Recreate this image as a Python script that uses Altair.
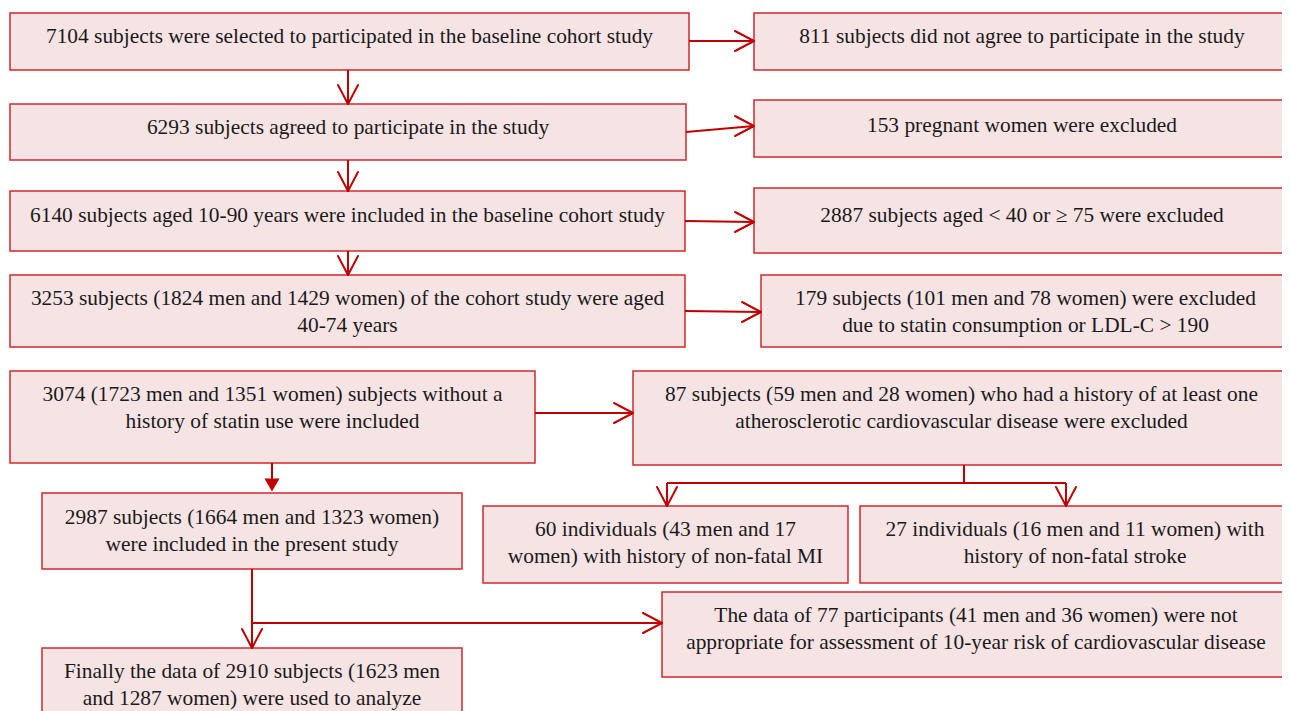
import altair as alt
import pandas as pd

# ---- box texts (one entry per box, lines split by "|") ----
box_texts = [
    "7104 subjects were selected to participated in the baseline cohort study",
    "811 subjects did not agree to participate in the study",
    "6293 subjects agreed to participate in the study",
    "153 pregnant women were excluded",
    "6140 subjects aged 10-90 years were included in the baseline cohort study",
    "2887 subjects aged < 40 or \u2265 75 were excluded",
    "3253 subjects (1824 men and 1429 women) of the cohort study were aged|40-74 years",
    "179 subjects (101 men and 78 women) were excluded|due to statin consumption or LDL-C > 190",
    "3074 (1723 men and 1351 women) subjects without a|history of statin use were included",
    "87 subjects (59 men and 28 women) who had a history of at least one|atherosclerotic cardiovascular disease were excluded",
    "2987 subjects (1664 men and 1323 women)|were included in the present study",
    "60 individuals (43 men and 17|women) with history of non-fatal MI",
    "27 individuals (16 men and 11 women) with|history of non-fatal stroke",
    "The data of 77 participants (41 men and 36 women) were not|appropriate for assessment of 10-year risk of cardiovascular disease",
    "Finally the data of 2910 subjects (1623 men|and 1287 women) were used to analyze",
]
# ---- layout (pixel positions of the boxes) ----
box_x0 = [10, 754, 10, 754, 10, 754, 10, 761, 10, 633, 42, 483, 860, 662, 42]
box_x1 = [689, 1292, 686, 1292, 685, 1292, 685, 1292, 535, 1292, 462, 848, 1292, 1292, 462]
box_y0 = [13, 13, 104, 100, 191, 188, 275, 275, 371, 371, 493, 506, 506, 592, 648]
box_y1 = [70, 70, 160, 157, 251, 253, 347, 347, 463, 465, 569, 583, 583, 677, 720]
text_y = [37, 37, 128, 126, 216, 216, 299, 299, 395, 395, 518, 530, 530, 616, 672]

# connector segments (x1, y1, x2, y2)
seg_x1 = [689, 348, 686, 348, 685, 348, 685, 535, 272, 964, 667, 667, 1066, 252, 252]
seg_y1 = [41, 70, 132, 160, 221, 251, 311, 413, 463, 465, 483, 483, 483, 569, 623]
seg_x2 = [754, 348, 754, 348, 754, 348, 761, 633, 272, 964, 1066, 667, 1066, 252, 662]
seg_y2 = [41, 104, 126, 191, 222, 275, 312, 413, 480, 483, 483, 506, 506, 648, 623]

# open arrowheads: tip and direction
head_x = [754, 348, 754, 348, 754, 348, 761, 633, 667, 1066, 252, 662]
head_y = [41, 104, 126, 191, 222, 275, 312, 413, 506, 506, 648, 623]
head_dir = ["r", "d", "r", "d", "r", "d", "r", "r", "d", "d", "d", "r"]
# filled arrowhead
tri_x = [272]
tri_y = [485]

FILL = "#f6e3e4"
STROKE = "#cf2a2f"
ARROW = "#c00000"
FONT = "Liberation Serif"
FS = 21.4
LH = 27
L, T = 8, 8
W, H = 1274, 703

boxes = pd.DataFrame({"x0": box_x0, "x1": box_x1, "y0": box_y0, "y1": box_y1})

rows = []
for i, t in enumerate(box_texts):
    lines = t.split("|")
    xc = (box_x0[i] + min(box_x1[i], 1290)) / 2
    for j, ln in enumerate(lines):
        rows.append({"x": xc, "y": text_y[i] + j * LH, "t": ln})
texts = pd.DataFrame(rows)

segs = pd.DataFrame({"x1": seg_x1, "y1": seg_y1, "x2": seg_x2, "y2": seg_y2})

arm_rows = []
AL, AW = 19, 10
for x, y, d in zip(head_x, head_y, head_dir):
    if d == "r":
        arm_rows.append({"x1": x - AL, "y1": y - AW, "x2": x, "y2": y})
        arm_rows.append({"x1": x - AL, "y1": y + AW, "x2": x, "y2": y})
    else:
        arm_rows.append({"x1": x - AW, "y1": y - AL, "x2": x, "y2": y})
        arm_rows.append({"x1": x + AW, "y1": y - AL, "x2": x, "y2": y})
arms = pd.DataFrame(arm_rows)
tris = pd.DataFrame({"x": tri_x, "y": tri_y})

xs = alt.Scale(domain=[L, L + W], nice=False, zero=False)
ys = alt.Scale(domain=[T, T + H], nice=False, zero=False, reverse=True)

rect = alt.Chart(boxes).mark_rect(fill=FILL, stroke=STROKE, strokeWidth=1.5).encode(
    x=alt.X("x0:Q", scale=xs, axis=None), x2="x1:Q",
    y=alt.Y("y0:Q", scale=ys, axis=None), y2="y1:Q",
)
lines = alt.Chart(segs).mark_rule(color=ARROW, strokeWidth=2).encode(
    x=alt.X("x1:Q", scale=xs, axis=None), x2="x2:Q",
    y=alt.Y("y1:Q", scale=ys, axis=None), y2="y2:Q",
)
heads = alt.Chart(arms).mark_rule(color=ARROW, strokeWidth=2, strokeCap="round").encode(
    x=alt.X("x1:Q", scale=xs, axis=None), x2="x2:Q",
    y=alt.Y("y1:Q", scale=ys, axis=None), y2="y2:Q",
)
tri = alt.Chart(tris).mark_point(shape="triangle-down", filled=True, color=ARROW, size=230, opacity=1).encode(
    x=alt.X("x:Q", scale=xs, axis=None), y=alt.Y("y:Q", scale=ys, axis=None),
)
txt = alt.Chart(texts).mark_text(font=FONT, fontSize=FS, color="#1a1a1a", baseline="middle", align="center").encode(
    x=alt.X("x:Q", scale=xs, axis=None), y=alt.Y("y:Q", scale=ys, axis=None), text="t:N",
)

chart = (rect + lines + heads + tri + txt).properties(
    width=W, height=H, padding=0, autosize="none", background="white"
).configure_view(stroke="transparent", strokeWidth=0)

chart.save("out.html", embed_options={"renderer": "svg", "actions": False})
